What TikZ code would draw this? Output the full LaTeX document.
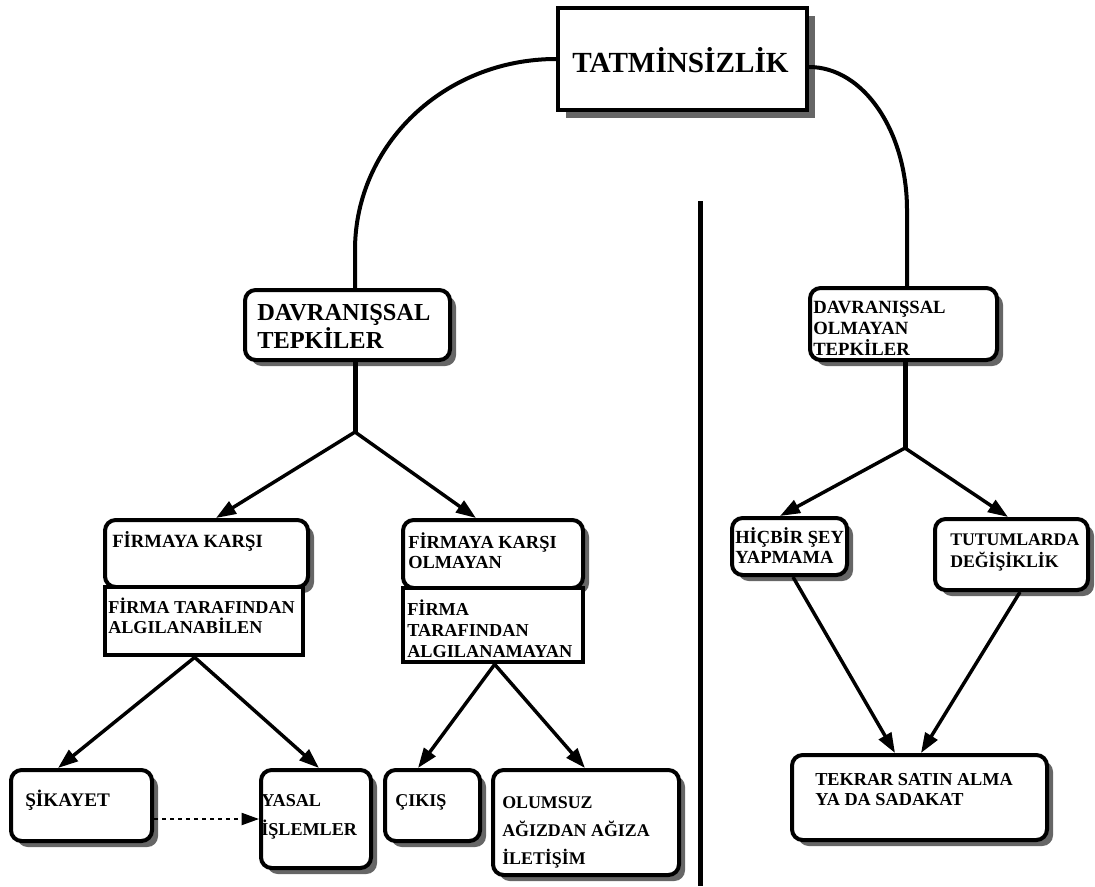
\documentclass[tikz,border=0pt]{standalone}
\usepackage{fontspec}
\setmainfont{Liberation Serif}
\usetikzlibrary{arrows.meta,shadows,calc,fit}
\newcommand\fsz[2]{\fontsize{#1}{#2}\selectfont}
\begin{document}
\begin{tikzpicture}[x=0.75pt,y=-0.75pt,
  box/.style={draw, line width=3pt, fill=white, inner sep=0pt},
  shade/.style={drop shadow={shadow xshift=#1, shadow yshift=-#1, fill=black!60, opacity=1}},
  rbox/.style={box, rounded corners=8pt, shade=4.5pt},
  sbox/.style={box, line width=3.5pt},
  lbl/.style={anchor=base west, inner sep=0pt, align=left, font=\bfseries},
  link/.style={line width=3pt},
  stem/.style={line width=3.75pt},
  arr/.style={line width=2.6pt, -{Triangle[length=15pt,width=10.5pt]}},
]
\useasboundingbox (0,0) rectangle (1095,886);

% boxes
\node[box, shade=6pt, fit={(558,8) (807,110)}] (tat) {};
\node[rbox, fit={(245,290) (450,360)}] (dt) {};
\node[rbox, fit={(810,288) (997,360)}] (dot) {};
\node[rbox, fit={(105,520) (308,587)}] (fk) {};
\node[sbox, fit={(105,587) (303,655)}] (fa) {};
\node[rbox, fit={(403,520) (583,588)}] (fko) {};
\node[sbox, fit={(403,588) (583,662)}] (fna) {};
\node[rbox, fit={(11,770) (152,841)}] (sk) {};
\node[rbox, fit={(261,770) (371,868)}] (yi) {};
\node[rbox, fit={(385,770) (480,841)}] (ck) {};
\node[rbox, fit={(493,770) (679,875)}] (ol) {};
\node[rbox, fit={(732,518) (847,575)}] (hs) {};
\node[rbox, fit={(935,519) (1088,590)}] (td) {};
\node[rbox, fit={(792,755) (1047,840)}] (ts) {};

% labels (each placed at the baseline of its last line)
\node[lbl, font=\bfseries\fsz{21.9pt}{26pt}] (tatt) at (572,72) {TATMİNSİZLİK};
\node[lbl, font=\bfseries\fsz{18.3pt}{21pt}] (dtt) at (257,348) {DAVRANIŞSAL\\TEPKİLER};
\node[lbl, font=\bfseries\fsz{14pt}{15.75pt}] (dott) at (813,355) {DAVRANIŞSAL\\OLMAYAN\\TEPKİLER};
\node[lbl, font=\bfseries\fsz{14pt}{15pt}] (fkt) at (112,547) {FİRMAYA KARŞI};
\node[lbl, font=\bfseries\fsz{13.6pt}{15pt}] (fat) at (108,633) {FİRMA TARAFINDAN\\ALGILANABİLEN};
\node[lbl, font=\bfseries\fsz{13.8pt}{15pt}] (fkot) at (408,568) {FİRMAYA KARŞI\\OLMAYAN};
\node[lbl, font=\bfseries\fsz{13.7pt}{15.75pt}] (fnat) at (407,657) {FİRMA\\TARAFINDAN\\ALGILANAMAYAN};
\node[lbl, font=\bfseries\fsz{14.4pt}{16pt}] (skt) at (25,806) {ŞİKAYET};
\node[lbl, font=\bfseries\fsz{13.6pt}{21.75pt}] (yit) at (261,835) {YASAL\\İŞLEMLER};
\node[lbl, font=\bfseries\fsz{13.5pt}{16pt}] (ckt) at (395,806) {ÇIKIŞ};
\node[lbl, font=\bfseries\fsz{13.4pt}{21pt}] (olt) at (502,864) {OLUMSUZ\\AĞIZDAN AĞIZA\\İLETİŞİM};
\node[lbl, font=\bfseries\fsz{13.9pt}{15pt}] (hst) at (735,563) {HİÇBİR ŞEY\\YAPMAMA};
\node[lbl, font=\bfseries\fsz{13.3pt}{16.5pt}] (tdt) at (950,567) {TUTUMLARDA\\DEĞİŞİKLİK};
\node[lbl, font=\bfseries\fsz{13.7pt}{15pt}] (tst) at (815,805) {TEKRAR SATIN ALMA\\YA DA SADAKAT};

% curved links from the top box
\coordinate (cl) at (355,250);
\draw[link] (tat.west) .. controls +(-112,0) and +(0,-105) .. (cl) -- ($(dt.north)+(7.5,0)$);
\coordinate (cr) at (907,210);
\draw[link] ($(tat.east)+(0,8)$) .. controls +(55,0) and +(0,-78) .. (cr) -- ($(dot.north)+(3.5,0)$);

% left branch
\coordinate (jl) at (355,432);
\draw[stem] ($(dt.south)+(7.5,0)$) -- (jl);
\draw[arr] (jl) -- ($(fk.north west)+(113,0)$);
\draw[arr] (jl) -- ($(fko.north west)+(75,0)$);
\draw[arr] ($(fa.south west)+(92,0)$) -- ($(sk.north west)+(49,0)$);
\draw[arr] ($(fa.south west)+(92,0)$) -- ($(yi.north west)+(60,0)$);
\draw[arr] ($(fna.south west)+(94,0)$) -- ($(ck.north west)+(35,0)$);
\draw[arr] ($(fna.south west)+(94,0)$) -- ($(ol.north west)+(94,0)$);
\draw[dashed, line width=1.5pt, -{Triangle[length=13pt,width=9pt]}] ($(sk.east)+(0,13.5)$) -- (yi.west);

% right branch
\coordinate (jr) at (905,448);
\draw[stem] ($(dot.south)+(1.5,0)$) -- (jr);
\draw[arr] (jr) -- ($(hs.north west)+(50,0)$);
\draw[arr] (jr) -- ($(td.north west)+(75,0)$);
\draw[arr] ($(hs.south west)+(63,0)$) -- ($(ts.north west)+(105,0)$);
\draw[arr] ($(td.south west)+(87,0)$) -- ($(ts.north west)+(131,0)$);

% divider
\draw[line width=3.75pt] (700,201) -- (700,886);
\end{tikzpicture}
\end{document}
